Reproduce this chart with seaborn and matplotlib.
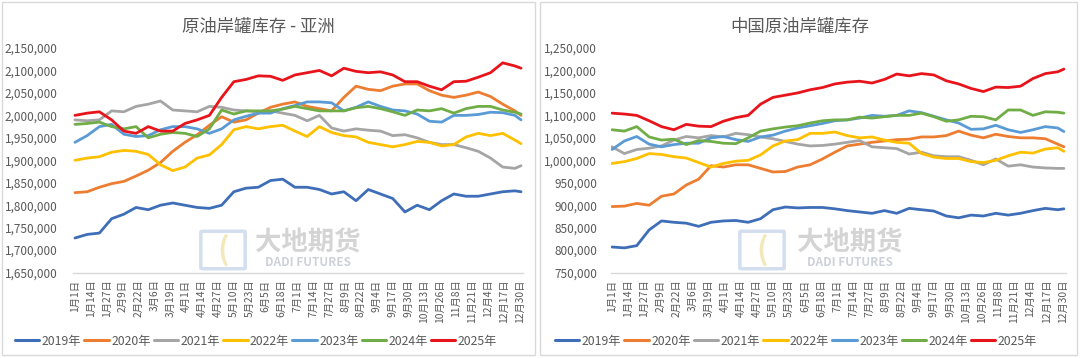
import numpy as np
import pandas as pd
import matplotlib
matplotlib.use("Agg")
import matplotlib.pyplot as plt
import seaborn as sns
from matplotlib.patches import Rectangle, FancyBboxPatch
from matplotlib.lines import Line2D

# ---------------- data (values in thousand barrels) ----------------
YEARS = ["2019年", "2020年", "2021年", "2022年", "2023年", "2024年", "2025年"]
COLORS = ["#3F6EB8", "#ED7D31", "#A5A5A5", "#FFC000", "#5B9BD5", "#70AD47", "#E8141B"]

DAYS = [0, 10, 20, 30, 40, 50, 60, 70, 80, 90, 100, 110, 120, 130, 140, 150, 160, 170, 180,
        190, 200, 210, 220, 230, 240, 250, 260, 270, 280, 290, 300, 310, 320, 330, 340, 350, 360, 365]

ASIA_2019 = [1727, 1735, 1738, 1770, 1780, 1795, 1790, 1800, 1805, 1800, 1795, 1793, 1800, 1830,
             1838, 1840, 1855, 1858, 1840, 1840, 1835, 1825, 1830, 1810, 1835, 1825, 1815, 1785,
             1800, 1790, 1810, 1825, 1820, 1820, 1825, 1830, 1832, 1830]
ASIA_2020 = [1828, 1830, 1840, 1848, 1853, 1865, 1878, 1895, 1920, 1940, 1957, 1978, 1997, 1985,
             1990, 2005, 2018, 2025, 2030, 2020, 2015, 2010, 2040, 2065, 2058, 2055, 2065, 2070,
             2070, 2055, 2045, 2040, 2045, 2052, 2042, 2025, 2010, 2000]
ASIA_2021 = [1990, 1988, 1990, 2010, 2008, 2020, 2025, 2032, 2012, 2010, 2008, 2020, 2018, 2012,
             2010, 2008, 2010, 2005, 2000, 1988, 2000, 1972, 1965, 1970, 1967, 1965, 1955, 1957,
             1950, 1940, 1935, 1935, 1928, 1920, 1905, 1885, 1882, 1888]
ASIA_2022 = [1900, 1905, 1908, 1918, 1922, 1920, 1913, 1890, 1877, 1885, 1905, 1912, 1935, 1968,
             1975, 1970, 1975, 1978, 1965, 1953, 1975, 1962, 1955, 1952, 1940, 1935, 1930, 1935,
             1942, 1940, 1932, 1935, 1952, 1960, 1955, 1960, 1945, 1937]
ASIA_2023 = [1940, 1955, 1975, 1980, 1958, 1953, 1955, 1968, 1975, 1975, 1970, 1960, 1970, 1990,
             1998, 2005, 2005, 2015, 2022, 2030, 2030, 2028, 2010, 2018, 2030, 2020, 2012, 2010,
             2003, 1987, 1985, 2000, 2000, 2002, 2007, 2006, 2000, 1990]
ASIA_2024 = [1980, 1982, 1985, 1975, 1970, 1975, 1950, 1958, 1962, 1960, 1953, 1970, 2012, 2003,
             2010, 2010, 2010, 2014, 2020, 2015, 2010, 2010, 2010, 2017, 2020, 2015, 2008, 2000,
             2012, 2010, 2015, 2005, 2015, 2020, 2020, 2012, 2007, 2003]
ASIA_2025 = [2000, 2005, 2008, 1990, 1965, 1960, 1975, 1965, 1965, 1982, 1990, 2000, 2040, 2075,
             2080, 2088, 2087, 2078, 2090, 2095, 2100, 2088, 2105, 2098, 2095, 2097, 2090, 2075,
             2075, 2065, 2057, 2075, 2076, 2085, 2095, 2117, 2110, 2105]

CHINA_2019 = [807, 805, 810, 845, 865, 862, 860, 853, 862, 865, 866, 862, 870, 890, 896, 894, 895,
              895, 892, 888, 885, 882, 888, 882, 893, 890, 887, 876, 872, 878, 876, 882, 878, 882,
              888, 893, 890, 892]
CHINA_2020 = [897, 898, 904, 900, 920, 925, 945, 958, 988, 985, 990, 990, 982, 974, 975, 985, 990,
              1003, 1018, 1032, 1036, 1040, 1043, 1046, 1047, 1052, 1052, 1055, 1065, 1056, 1050,
              1058, 1053, 1050, 1050, 1048, 1036, 1030]
CHINA_2021 = [1030, 1015, 1024, 1027, 1032, 1045, 1053, 1050, 1055, 1052, 1060, 1057, 1052, 1048,
              1042, 1036, 1032, 1033, 1036, 1040, 1044, 1030, 1028, 1026, 1014, 1018, 1010, 1008,
              1008, 1000, 990, 1003, 987, 990, 985, 983, 982, 982]
CHINA_2022 = [993, 997, 1004, 1015, 1013, 1008, 1005, 995, 985, 993, 998, 1000, 1012, 1032, 1043,
              1046, 1060, 1060, 1063, 1055, 1050, 1052, 1045, 1040, 1038, 1015, 1007, 1004, 1004,
              997, 995, 1000, 1010, 1018, 1016, 1025, 1028, 1020]
CHINA_2023 = [1024, 1043, 1053, 1036, 1030, 1035, 1038, 1038, 1050, 1053, 1046, 1042, 1052, 1056,
              1065, 1072, 1077, 1082, 1088, 1090, 1094, 1100, 1098, 1100, 1110, 1106, 1098, 1090,
              1083, 1069, 1070, 1078, 1068, 1062, 1068, 1075, 1072, 1064]
CHINA_2024 = [1068, 1065, 1075, 1052, 1045, 1047, 1035, 1044, 1042, 1038, 1037, 1050, 1065, 1070,
              1074, 1077, 1083, 1088, 1090, 1090, 1096, 1094, 1097, 1100, 1100, 1105, 1097, 1087,
              1090, 1098, 1097, 1090, 1112, 1112, 1100, 1108, 1107, 1105]
CHINA_2025 = [1105, 1103, 1100, 1088, 1075, 1068, 1080, 1076, 1075, 1087, 1095, 1100, 1125, 1140,
              1145, 1150, 1157, 1162, 1170, 1174, 1176, 1172, 1180, 1192, 1188, 1193, 1190, 1177,
              1170, 1160, 1153, 1163, 1162, 1165, 1182, 1193, 1197, 1203]

TICK_DAYS = [0, 13, 26, 39, 52, 65, 78, 91, 104, 117, 130, 143, 156, 169, 182, 195, 208, 221,
             234, 247, 260, 273, 286, 299, 312, 325, 338, 351, 364]
TICK_LABELS = ["1月1日", "1月14日", "1月27日", "2月9日", "2月22日", "3月6日", "3月19日", "4月1日",
               "4月14日", "4月27日", "5月10日", "5月23日", "6月5日", "6月18日", "7月1日", "7月14日",
               "7月27日", "8月9日", "8月22日", "9月4日", "9月17日", "9月30日", "10月13日",
               "10月26日", "11月8日", "11月21日", "12月4日", "12月17日", "12月30日"]

ASIA = [ASIA_2019, ASIA_2020, ASIA_2021, ASIA_2022, ASIA_2023, ASIA_2024, ASIA_2025]
CHINA = [CHINA_2019, CHINA_2020, CHINA_2021, CHINA_2022, CHINA_2023, CHINA_2024, CHINA_2025]
ASIA_TICKS = [1650000, 1700000, 1750000, 1800000, 1850000, 1900000, 1950000, 2000000,
              2050000, 2100000, 2150000]
CHINA_TICKS = [750000, 800000, 850000, 900000, 950000, 1000000, 1050000, 1100000,
               1150000, 1200000, 1250000]


def long_frame(series_list):
    rows = []
    for year, vals in zip(YEARS, series_list):
        for d, v in zip(DAYS, vals):
            rows.append({"day": d, "value": v * 1000, "year": year})
    return pd.DataFrame(rows)


# ---------------- style ----------------
sns.set_theme(style="white")
plt.rcParams["font.family"] = ["Noto Sans CJK SC", "DejaVu Sans"]
TXT = "#595959"

W, H = 1080, 358
fig = plt.figure(figsize=(W / 100, H / 100), dpi=100)
fig.patch.set_facecolor("white")


def fx(px):
    return px / W


def fy(py):
    return 1 - py / H


# panel borders
for x0, x1 in [(2, 535), (540, 1077)]:
    fig.patches.append(Rectangle((fx(x0), fy(355)), fx(x1 - x0), 353 / H,
                                 transform=fig.transFigure, fill=False,
                                 edgecolor="#D9D9D9", linewidth=1.0, zorder=0))

palette = dict(zip(YEARS, COLORS))


def make_panel(ax_rect, series, ticks, ylim, xlim, title, title_x, ypad, legend_x,
               wm_logo_x, wm_text_x):
    ax = fig.add_axes(ax_rect)
    df = long_frame(series)
    sns.lineplot(data=df, x="day", y="value", hue="year", palette=palette,
                 linewidth=2.0, ax=ax, legend=False)
    ax.set_xlim(*xlim)
    ax.set_ylim(*ylim)
    ax.set_yticks(ticks)
    ax.set_yticklabels([f"{t:,}" for t in ticks], fontsize=8.5, color=TXT)
    ax.set_xticks(TICK_DAYS)
    ax.set_xticklabels(TICK_LABELS, rotation=90, fontsize=7.4, color=TXT)
    ax.tick_params(axis="y", length=0, pad=ypad)
    ax.tick_params(axis="x", length=0, pad=5)
    for s in ["top", "right", "left"]:
        ax.spines[s].set_visible(False)
    ax.spines["bottom"].set_color("#D9D9D9")
    ax.spines["bottom"].set_linewidth(1.0)
    ax.set_xlabel("")
    ax.set_ylabel("")
    ax.grid(False)
    ax.set_facecolor("none")

    fig.text(fx(title_x), fy(27), title, ha="center", va="center",
             fontsize=12.5, color=TXT)

    handles = [Line2D([0], [0], color=c, lw=2.2) for c in COLORS]
    fig.legend(handles, YEARS, loc="center", bbox_to_anchor=(fx(legend_x), fy(341)),
               ncol=7, frameon=False, fontsize=8.8, handlelength=2.0,
               handletextpad=0.2, columnspacing=0.25, borderpad=0.1,
               labelcolor=TXT)

    # watermark
    fig.patches.append(FancyBboxPatch((fx(wm_logo_x), fy(268)), fx(40), 36 / H,
                                      boxstyle="round,pad=0.002",
                                      transform=fig.transFigure, fill=False,
                                      edgecolor="#C8D6EA", linewidth=2.5, zorder=1, alpha=0.8))
    fig.text(fx(wm_logo_x + 20), fy(250), "(", ha="center", va="center", fontsize=22,
             color="#F1E3A8", alpha=0.8, fontweight="bold")
    fig.text(fx(wm_text_x), fy(243), "大地期货", ha="center", va="center",
             fontsize=19, color="#CDCDCD", fontweight="bold", alpha=0.85, zorder=1)
    fig.text(fx(wm_text_x), fy(263), "DADI FUTURES", ha="center", va="center",
             fontsize=8.5, color="#C8CDD5", fontweight="bold", alpha=0.9, zorder=1)
    return ax


make_panel([fx(73), fy(272.6), fx(450), (272.6 - 48) / H], ASIA, ASIA_TICKS,
           (1650000, 2150000), (-1.6, 366.6), "原油岸罐库存 - 亚洲", 258, 11, 256,
           203, 308)
make_panel([fx(611), fy(272.6), fx(455), (272.6 - 48) / H], CHINA, CHINA_TICKS,
           (750000, 1250000), (-0.8, 366.7), "中国原油岸罐库存", 800, 10, 796,
           742, 850)

fig.savefig("out.png", dpi=100)
